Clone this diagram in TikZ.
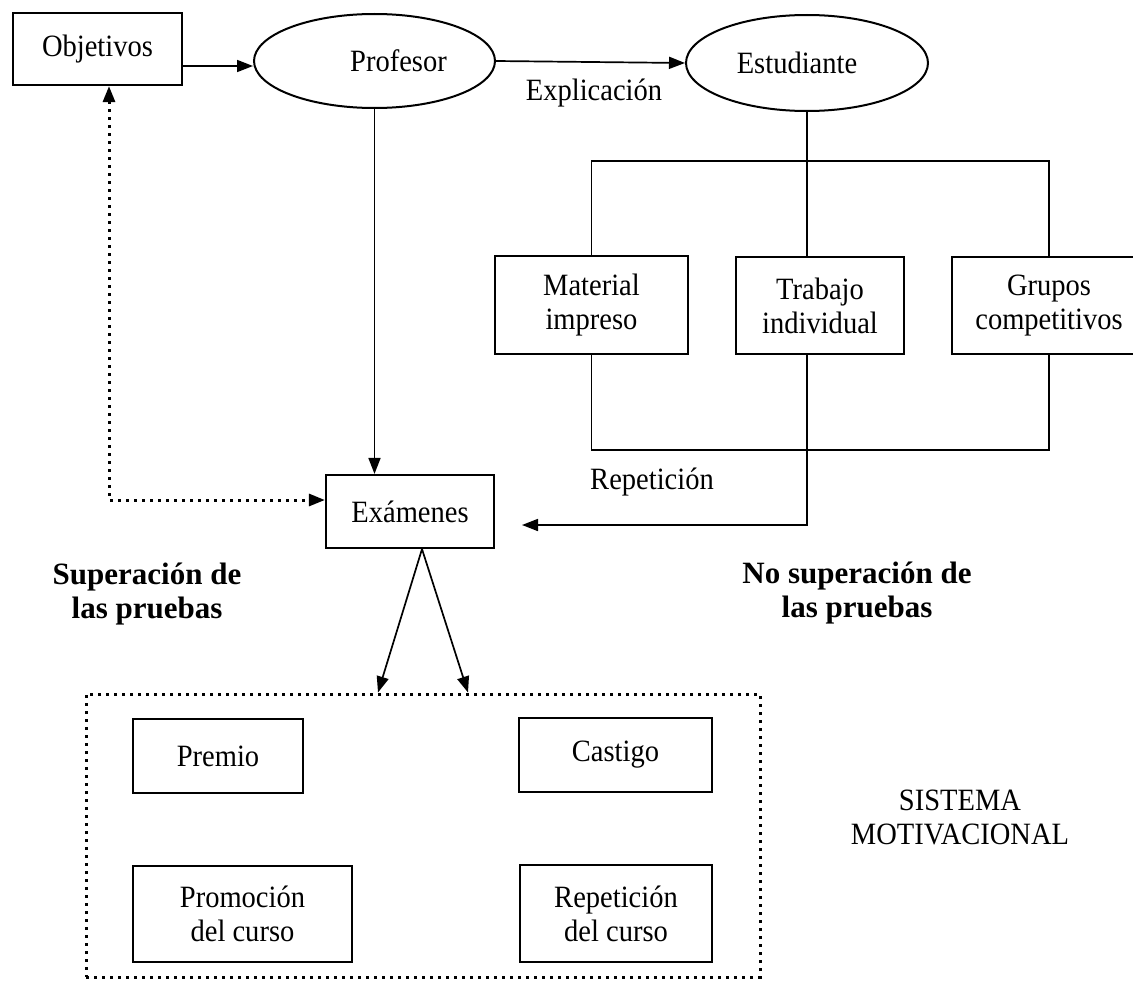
\documentclass[tikz,border=0pt]{standalone}
\usepackage{fontspec}
\setmainfont{Liberation Serif}[FakeStretch=0.92]
\newfontfamily\lblfont{Liberation Serif}
\usetikzlibrary{arrows.meta,shapes.geometric}
\begin{document}
\begin{tikzpicture}[x=1pt,y=-1pt,
  every node/.style={font=\fontsize{31}{34}\selectfont, inner sep=0pt, align=center},
  box/.style={draw, line width=2.2pt, rectangle},
  oval/.style={draw, line width=2pt, ellipse},
  conn/.style={line width=1.7pt},
  arr/.style={conn, -{Triangle[length=16pt,width=12pt]}},
  dots/.style={line width=3pt, dash pattern=on 3pt off 5pt},
  dotarr/.style={dots, {Triangle[length=16pt,width=12pt]}-{Triangle[length=16pt,width=12pt]}},
  boldlbl/.style={font=\lblfont\bfseries\fontsize{31}{34}\selectfont},
  plainlbl/.style={}
]
\useasboundingbox (0,0) rectangle (1133,982);
\fill[white] (0,0) rectangle (1133,982);

% nodes
\node[box, minimum width=169pt, minimum height=72pt] (obj) at (97.5,49) {Objetivos};
\node[oval, minimum width=241pt, minimum height=94pt] (prof) at (374.5,61) {\hspace*{48pt}Profesor};
\node[oval, minimum width=242pt, minimum height=96pt] (est) at (807,63) {Estudiante\hspace*{20pt}};
\node[box, minimum width=193pt, minimum height=98pt] (mat) at (591.5,305) {Material\\impreso};
\node[box, minimum width=168pt, minimum height=97pt] (trab) at (820,305.5) {Trabajo\\individual};
\node[box, minimum width=194pt, minimum height=97pt] (grup) at (1049,305.5) {Grupos\\competitivos};
\node[box, minimum width=168pt, minimum height=73pt] (exa) at (410,511.5) {Exámenes};
\node[dots, draw, rectangle, minimum width=674pt, minimum height=283pt] (frame) at (423,835.5) {};
\node[box, minimum width=170pt, minimum height=74pt] (premio) at (218,756) {Premio};
\node[box, minimum width=193pt, minimum height=74pt] (castigo) at (615.5,755) {Castigo};
\node[box, minimum width=219pt, minimum height=96pt] (promo) at (242.5,914) {Promoción\\del curso};
\node[box, minimum width=192pt, minimum height=97pt] (repc) at (616,913.5) {Repetición\\del curso};

% labels
\node[plainlbl] (lexp) at (594,93) {Explicación};
\node[plainlbl] (lrep) at (652,482) {Repetición};
\node[boldlbl] (lsup) at (147,594) {Superación de\\las pruebas};
\node[boldlbl] (lnos) at (857,593) {No superación de\\las pruebas};
\node[plainlbl] (lsis) at (960,817) {SISTEMA\\MOTIVACIONAL};

% helper coordinates
\coordinate (bus) at (0,161);
\coordinate (loop) at (0,450);
\coordinate (reptip) at (522,525);

% connectors
\draw[arr] ([yshift=-17pt]obj.east) -- ([yshift=-5pt]prof.west);
\draw[arr] (prof.east) -- (est.west);
\draw[arr] (prof.south) -- (prof.south |- exa.north);
\draw[conn] (est.south) -- (est.south |- trab.north);
\draw[conn] (mat.north) |- (grup.north |- bus) -- (grup.north);
\draw[conn] (mat.south) |- (grup.south |- loop) -- (grup.south);
\draw[arr] (est.south |- trab.south) |- (reptip);
\draw[dotarr] ([xshift=11.5pt]obj.south) |- ([yshift=11.5pt]exa.west);
\draw[arr] ([xshift=12pt]exa.south) -- ([xshift=-45pt]frame.north);
\draw[arr] ([xshift=12pt]exa.south) -- ([xshift=45pt]frame.north);
\end{tikzpicture}
\end{document}
